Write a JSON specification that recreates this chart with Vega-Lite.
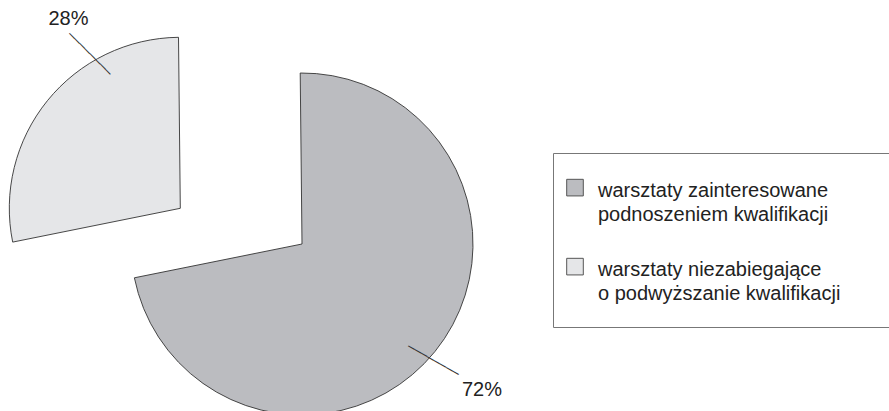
{
  "$schema": "https://vega.github.io/schema/vega-lite/v6.json",
  "width": 604,
  "height": 488,
  "autosize": {"type": "none"},
  "padding": {"left": 0, "top": 0, "right": 285, "bottom": 0},
  "background": "white",
  "config": {
    "view": {"stroke": null},
    "font": "Liberation Sans",
    "style": {"guide-label": {"dy": 21.9, "lineHeight": 24}},
    "legend": {
      "orient": "none",
      "legendX": 553,
      "legendY": 153,
      "padding": 12,
      "strokeColor": "#777777",
      "symbolType": "M-1,0.52H1V2.52H-1ZM0,7.02M60,0",
      "symbolSize": 276,
      "symbolStrokeColor": "#555555",
      "symbolStrokeWidth": 1,
      "labelFont": "Liberation Sans",
      "labelFontSize": 20,
      "labelColor": "#222222",
      "labelLimit": 0,
      "labelBaseline": "alphabetic",
      "labelOffset": 13,
      "rowPadding": 8
    }
  },
  "data": {
    "values": [
      {"category": "warsztaty zainteresowane podnoszeniem kwalifikacji", "share": 0.72},
      {"category": "warsztaty niezabiegające o podwyższanie kwalifikacji", "share": 0.28}
    ]
  },
  "encoding": {
    "theta": {"field": "share", "type": "quantitative", "stack": true, "scale": {"domain": [0, 1], "range": [-0.010472, 6.272713]}},
    "order": {"field": "share", "type": "quantitative", "sort": "descending"},
    "detail": {"field": "category", "type": "nominal"}
  },
  "layer": [
    {
      "mark": {"type": "arc", "radius": 171, "stroke": "#333333", "strokeWidth": 0.9},
      "encoding": {
        "color": {
          "field": "category", "type": "nominal",
          "scale": {"domain": ["warsztaty zainteresowane podnoszeniem kwalifikacji", "warsztaty niezabiegające o podwyższanie kwalifikacji"], "range": ["#bbbcc0", "#e5e6e8"]},
          "legend": {
            "title": null,
            "labelBaseline": "alphabetic",
            "labelExpr": "datum.label == 'warsztaty zainteresowane podnoszeniem kwalifikacji' ? ['warsztaty zainteresowane', 'podnoszeniem kwalifikacji'] : ['warsztaty niezabiegające', 'o podwyższanie kwalifikacji']"
          }
        },
        "opacity": {"condition": {"test": "datum.category == 'warsztaty zainteresowane podnoszeniem kwalifikacji'", "value": 1}, "value": 0}
      }
    },
    {
      "mark": {"type": "arc", "radius": 171, "stroke": "#333333", "strokeWidth": 0.9, "xOffset": -121.7, "yOffset": -35.7},
      "encoding": {
        "color": {"field": "category", "type": "nominal"},
        "opacity": {"condition": {"test": "datum.category == 'warsztaty niezabiegające o podwyższanie kwalifikacji'", "value": 1}, "value": 0}
      }
    },
    {
      "mark": {"type": "text", "radius": 231.5, "fontSize": 20, "font": "Liberation Sans", "color": "#222222", "align": "center", "baseline": "middle"},
      "encoding": {
        "text": {"field": "share", "type": "quantitative", "format": ".0%"},
        "opacity": {"condition": {"test": "datum.category == 'warsztaty zainteresowane podnoszeniem kwalifikacji'", "value": 1}, "value": 0}
      }
    },
    {
      "mark": {"type": "text", "radius": 219.7, "xOffset": -62.8, "yOffset": -86.5, "fontSize": 20, "font": "Liberation Sans", "color": "#222222", "align": "center", "baseline": "middle"},
      "encoding": {
        "text": {"field": "share", "type": "quantitative", "format": ".0%"},
        "opacity": {"condition": {"test": "datum.category == 'warsztaty niezabiegające o podwyższanie kwalifikacji'", "value": 1}, "value": 0}
      }
    },
    {
      "mark": {"type": "text", "text": "────────", "radius": 175.4, "xOffset": -5, "yOffset": 5.9, "angle": 29.7, "fontSize": 12, "font": "DejaVu Sans Mono", "color": "#333333", "align": "center", "baseline": "middle"},
      "encoding": {
        "opacity": {"condition": {"test": "datum.category == 'warsztaty zainteresowane podnoszeniem kwalifikacji'", "value": 1}, "value": 0}
      }
    },
    {
      "mark": {"type": "text", "text": "────────", "radius": 179.2, "xOffset": -73, "yOffset": -77.5, "angle": 45, "fontSize": 12, "font": "DejaVu Sans Mono", "color": "#333333", "align": "center", "baseline": "middle"},
      "encoding": {
        "opacity": {"condition": {"test": "datum.category == 'warsztaty niezabiegające o podwyższanie kwalifikacji'", "value": 1}, "value": 0}
      }
    }
  ]
}
